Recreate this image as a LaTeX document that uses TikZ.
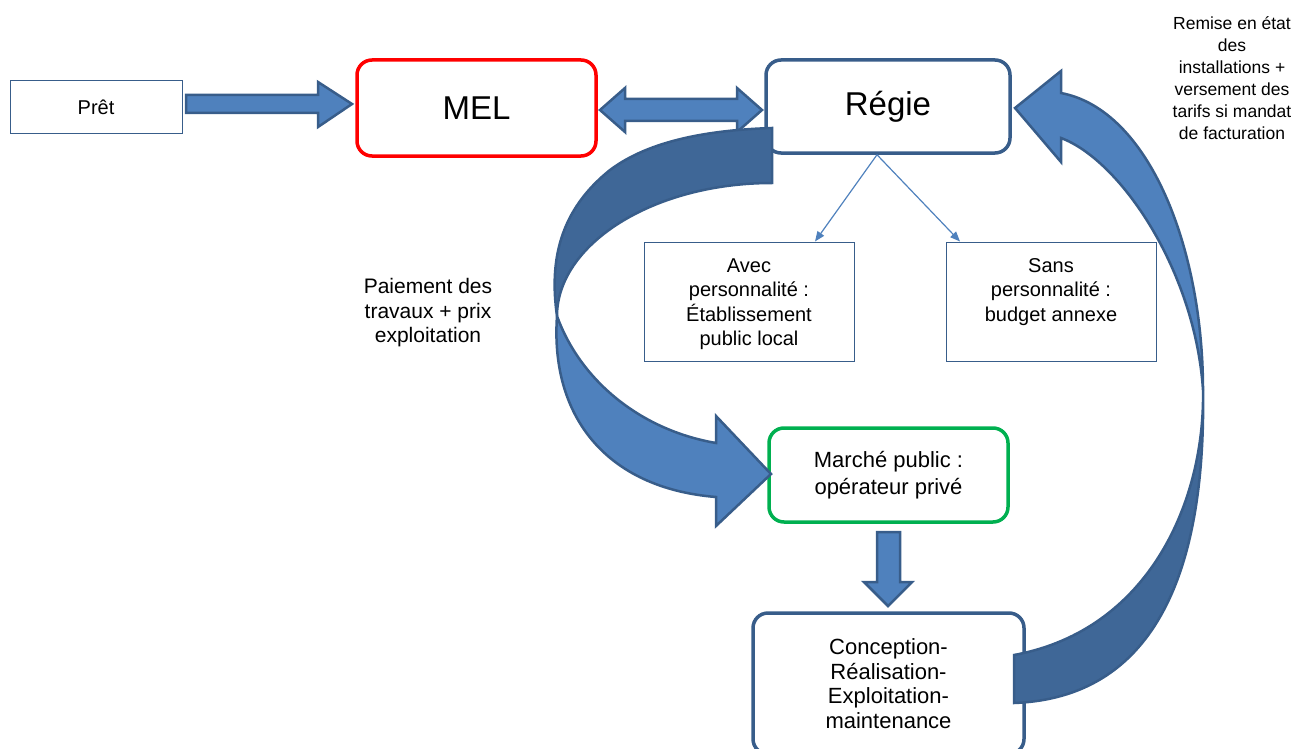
\documentclass[tikz,border=0pt]{standalone}
\usepackage{fontspec}
\setmainfont{Liberation Sans}
\usetikzlibrary{arrows.meta}
\definecolor{bfill}{RGB}{79,129,189}
\definecolor{bline}{RGB}{56,93,138}
\definecolor{bdark}{RGB}{63,103,151}
\definecolor{mred}{RGB}{255,0,0}
\definecolor{mgreen}{RGB}{0,176,80}
\begin{document}
\begin{tikzpicture}[x=1pt,y=-1pt,
  txt/.style={align=center,font=\fontsize{20}{24.5}\selectfont,inner sep=0pt},
  midtxt/.style={font=\fontsize{22}{24.5}\selectfont},
  plainbox/.style={txt,draw=bline,line width=1pt,fill=white},
  roundbox/.style={txt,draw=bline,line width=3.5pt,rounded corners=15pt,fill=white},
  bigtxt/.style={font=\fontsize{33}{36}\selectfont},
  blk/.style={fill=bfill,draw=bline,line width=2.5pt,line join=miter},
  blkdark/.style={fill=bdark,draw=bline,line width=2.5pt,line join=miter},
  thin/.style={draw=bfill,line width=1.2pt,-{Triangle[length=10pt,width=8pt]}}]
\useasboundingbox (0,0) rectangle (1303,749);

% boxes
\node[plainbox,minimum width=172,minimum height=53] (pret) at (96,107.5) {Prêt};
\node[roundbox,draw=mred,bigtxt,minimum width=239,minimum height=96] (mel) at (476.5,108) {MEL};
\node[roundbox,bigtxt,minimum width=244,minimum height=93] (regie) at (888,106.5) {Régie};
\node[plainbox,minimum width=210,minimum height=119] (avec) at (749,301.5) {};
\node[txt] (avectxt) at (749,304) {Avec\\personnalité :\\Établissement\\public local};
\node[plainbox,minimum width=210,minimum height=119] (sans) at (1051,301.5) {};
\node[txt] (sanstxt) at (1051,292) {Sans\\personnalité :\\budget annexe};
\node[roundbox,draw=mgreen,font=\fontsize{22}{27}\selectfont,minimum width=239,minimum height=94] (marche) at (888.5,475) {Marché public :\\opérateur privé};
\node[roundbox,midtxt,minimum width=271,minimum height=141] (conc) at (888.5,683.5) {Conception-\\Réalisation-\\Exploitation-\\maintenance};

% free texts
\node[txt,font=\fontsize{21}{24.5}\selectfont] (paie) at (428,313) {Paiement des\\travaux + prix\\exploitation};
\node[txt,font=\fontsize{17.5}{22}\selectfont] (remise) at (1232,78) {Remise en état\\des\\installations +\\versement des\\tarifs si mandat\\de facturation};

% thin connectors
\draw[thin] ([xshift=-11]regie.south) -- ([xshift=66]avec.north);
\draw[thin] ([xshift=-11]regie.south) -- ([xshift=-91]sans.north);

% block arrows
\draw[blk] (186,95) -- (318,95) -- (318,82) -- (352,104) -- (318,127) -- (318,113) -- (186,113) -- cycle;
\draw[blk] (600,110) -- (625,88) -- (625,99) -- (737,99) -- (737,88) -- (762,110) -- (737,132) -- (737,121) -- (625,121) -- (625,132) -- cycle;
\draw[blk] (877,532) -- (900,532) -- (900,582) -- (912,582) -- (888,606) -- (864,582) -- (877,582) -- cycle;

% left curved arrow
\draw[blkdark] (772,128) -- (772,183) .. controls (652,183) and (557,245) .. (557,316)
  .. controls (549,260) and (560,210) .. (610,170) .. controls (650,140) and (710,130) .. (772,128) -- cycle;
\draw[blk] (557,316) .. controls (550,415) and (605,488) .. (716,497) -- (716,526) -- (771,474)
  -- (716,416) -- (716,443) .. controls (640,430) and (580,380) .. (557,316) -- cycle;

% right curved arrow
\draw[blk] (1015,108) -- (1061,71) -- (1061,93) .. controls (1150,110) and (1203,250) .. (1203,390)
  .. controls (1195,270) and (1120,160) .. (1061,138) -- (1061,162) -- cycle;
\draw[blkdark] (1014,655) -- (1014,703) .. controls (1150,698) and (1206,580) .. (1203,390)
  .. controls (1205,500) and (1150,630) .. (1014,655) -- cycle;
\end{tikzpicture}
\end{document}
